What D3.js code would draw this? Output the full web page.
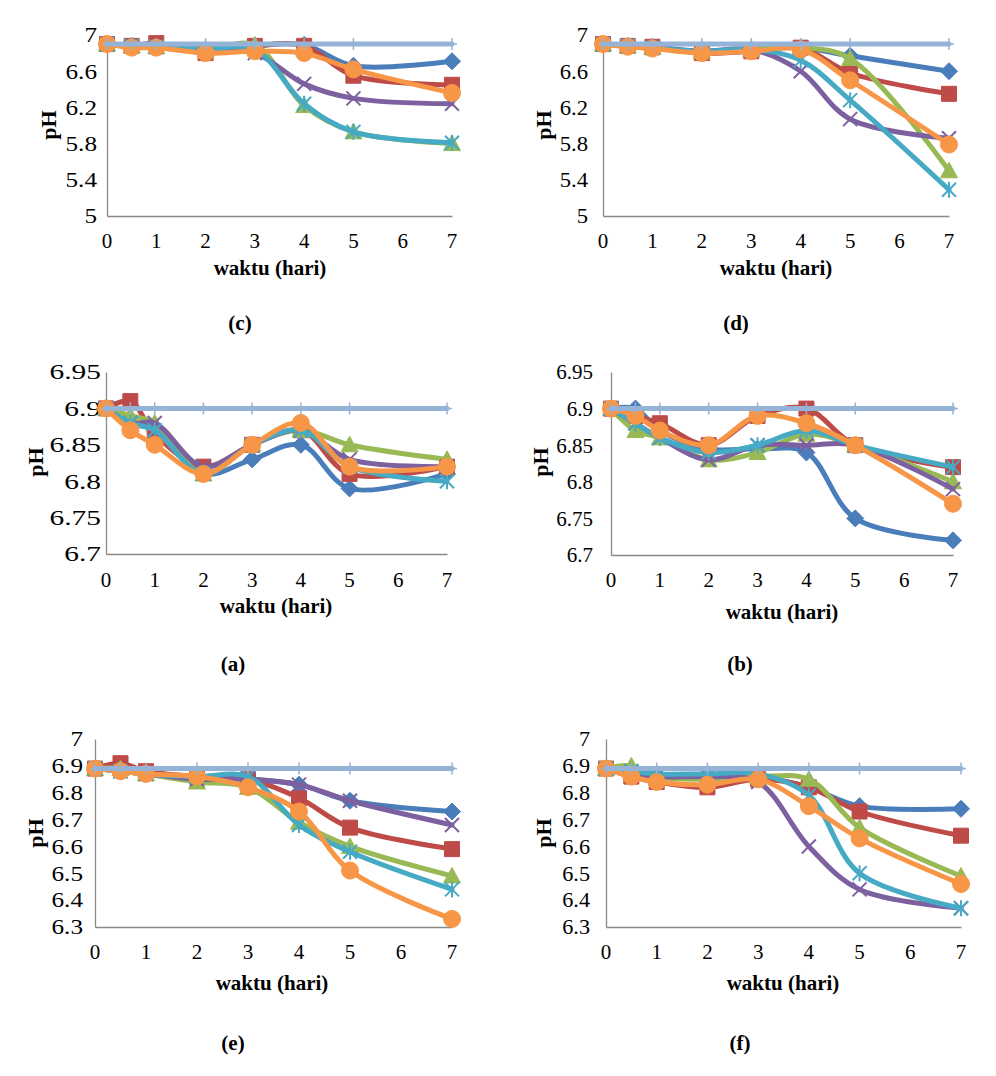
<!DOCTYPE html>
<html>
<head>
<meta charset="utf-8">
<script src="https://cdn.jsdelivr.net/npm/d3@7/dist/d3.min.js"></script>
<style>
html,body{margin:0;padding:0;background:#fff;}
svg{display:block;}
</style>
</head>
<body>
<svg id="chart" width="996" height="1076"></svg>
<script>
// ---- data ----
const days = [0, 0.5, 1, 2, 3, 4, 5, 7];
const xTickLabels = ["0","1","2","3","4","5","6","7"];
const seriesNames = ["diamond","square","triangle","x","star","circle","control"];

const yTicksCD = ["5","5.4","5.8","6.2","6.6","7"];
const yTicksAB = ["6.7","6.75","6.8","6.85","6.9","6.95"];
const yTicksEF = ["6.3","6.4","6.5","6.6","6.7","6.8","6.9","7"];

const panelLabels = ["(c)","(d)","(a)","(b)","(e)","(f)"];

const cBlue   = [6.9, 6.88, 6.9, 6.82, 6.88, 6.89, 6.66, 6.71];
const cRed    = [6.9, 6.88, 6.91, 6.8, 6.88, 6.88, 6.55, 6.45];
const cGreen  = [6.9, 6.88, 6.87, 6.84, 6.89, 6.22, 5.93, 5.8];
const cPurple = [6.9, 6.88, 6.87, 6.84, 6.8, 6.46, 6.3, 6.24];
const cTeal   = [6.9, 6.88, 6.87, 6.84, 6.84, 6.24, 5.93, 5.81];
const cOrange = [6.9, 6.86, 6.86, 6.8, 6.82, 6.8, 6.62, 6.36];
const cControl= [6.9, 6.9, 6.9, 6.9, 6.9, 6.9, 6.9, 6.9];

const dBlue   = [6.9, 6.88, 6.87, 6.82, 6.84, 6.86, 6.77, 6.6];
const dRed    = [6.9, 6.88, 6.87, 6.8, 6.82, 6.86, 6.58, 6.35];
const dGreen  = [6.9, 6.88, 6.86, 6.82, 6.84, 6.86, 6.74, 5.5];
const dPurple = [6.9, 6.88, 6.86, 6.82, 6.84, 6.6, 6.07, 5.86];
const dTeal   = [6.9, 6.88, 6.86, 6.82, 6.84, 6.72, 6.28, 5.29];
const dOrange = [6.9, 6.87, 6.85, 6.8, 6.82, 6.84, 6.5, 5.79];
const dControl= [6.9, 6.9, 6.9, 6.9, 6.9, 6.9, 6.9, 6.9];

const aBlue   = [6.9, 6.88, 6.87, 6.81, 6.83, 6.85, 6.79, 6.81];
const aRed    = [6.9, 6.91, 6.865, 6.82, 6.85, 6.87, 6.81, 6.82];
const aGreen  = [6.9, 6.89, 6.88, 6.81, 6.85, 6.87, 6.85, 6.83];
const aPurple = [6.9, 6.88, 6.88, 6.82, 6.85, 6.87, 6.83, 6.82];
const aTeal   = [6.9, 6.88, 6.87, 6.81, 6.85, 6.87, 6.82, 6.8];
const aOrange = [6.9, 6.87, 6.85, 6.81, 6.85, 6.88, 6.82, 6.82];
const aControl= [6.9, 6.9, 6.9, 6.9, 6.9, 6.9, 6.9, 6.9];

const bBlue   = [6.9, 6.9, 6.87, 6.845, 6.845, 6.84, 6.75, 6.72];
const bRed    = [6.9, 6.89, 6.88, 6.85, 6.89, 6.9, 6.85, 6.82];
const bGreen  = [6.9, 6.87, 6.86, 6.83, 6.84, 6.865, 6.85, 6.8];
const bPurple = [6.9, 6.88, 6.86, 6.83, 6.85, 6.85, 6.85, 6.79];
const bTeal   = [6.9, 6.88, 6.86, 6.84, 6.85, 6.87, 6.85, 6.82];
const bOrange = [6.9, 6.89, 6.87, 6.85, 6.89, 6.88, 6.85, 6.77];
const bControl= [6.9, 6.9, 6.9, 6.9, 6.9, 6.9, 6.9, 6.9];

const eBlue   = [6.89, 6.88, 6.87, 6.85, 6.85, 6.83, 6.77, 6.73];
const eRed    = [6.89, 6.91, 6.88, 6.86, 6.85, 6.78, 6.67, 6.59];
const eGreen  = [6.89, 6.89, 6.87, 6.84, 6.82, 6.69, 6.6, 6.49];
const ePurple = [6.89, 6.88, 6.87, 6.85, 6.85, 6.83, 6.77, 6.68];
const eTeal   = [6.89, 6.88, 6.87, 6.86, 6.86, 6.68, 6.58, 6.44];
const eOrange = [6.89, 6.88, 6.87, 6.86, 6.82, 6.73, 6.51, 6.33];
const eControl= [6.89, 6.89, 6.89, 6.89, 6.89, 6.89, 6.89, 6.89];

const fBlue   = [6.89, 6.87, 6.86, 6.86, 6.86, 6.82, 6.75, 6.74];
const fRed    = [6.89, 6.86, 6.84, 6.82, 6.85, 6.82, 6.73, 6.64];
const fGreen  = [6.89, 6.9, 6.86, 6.85, 6.86, 6.85, 6.67, 6.49];
const fPurple = [6.89, 6.88, 6.86, 6.86, 6.84, 6.6, 6.44, 6.37];
const fTeal   = [6.89, 6.88, 6.87, 6.87, 6.87, 6.79, 6.5, 6.37];
const fOrange = [6.89, 6.86, 6.84, 6.83, 6.85, 6.75, 6.63, 6.46];
const fControl= [6.89, 6.89, 6.89, 6.89, 6.89, 6.89, 6.89, 6.89];

// ---- styles ----
const colors = ["#4A7EBB","#BE4B48","#98B954","#7D60A0","#46AAC5","#F79646","#95B3D7"];
const FONT = "'Liberation Serif','Times New Roman','DejaVu Serif',serif";

const panels = [
  {label:panelLabels[0], ticks:yTicksCD, series:[cBlue,cRed,cGreen,cPurple,cTeal,cOrange,cControl],
   x0:107, x7:452, yb:216, yt:35, tickEnd:97, sx:1.2, xtY:241, xlab:[270,268], ph:[48,125], pl:[240,323]},
  {label:panelLabels[1], ticks:yTicksCD, series:[dBlue,dRed,dGreen,dPurple,dTeal,dOrange,dControl],
   x0:603, x7:949, yb:216, yt:35, tickEnd:588, sx:1.08, xtY:241, xlab:[776,268], ph:[543,125], pl:[736,323]},
  {label:panelLabels[2], ticks:yTicksAB, series:[aBlue,aRed,aGreen,aPurple,aTeal,aOrange,aControl],
   x0:106, x7:447, yb:554, yt:372, tickEnd:101, sx:1.4, xtY:580, xlab:[276,606], ph:[35,462], pl:[233,664]},
  {label:panelLabels[3], ticks:yTicksAB, series:[bBlue,bRed,bGreen,bPurple,bTeal,bOrange,bControl],
   x0:611, x7:953, yb:555, yt:372, tickEnd:593, sx:1.0, xtY:580, xlab:[782,612], ph:[540,462], pl:[740,664]},
  {label:panelLabels[4], ticks:yTicksEF, series:[eBlue,eRed,eGreen,ePurple,eTeal,eOrange,eControl],
   x0:95, x7:452, yb:927, yt:739, tickEnd:83, sx:1.2, xtY:952, xlab:[272,983], ph:[35,833], pl:[233,1043]},
  {label:panelLabels[5], ticks:yTicksEF, series:[fBlue,fRed,fGreen,fPurple,fTeal,fOrange,fControl],
   x0:606, x7:961, yb:927, yt:739, tickEnd:590, sx:1.06, xtY:952, xlab:[783,983], ph:[543,833], pl:[740,1043]}
];

function markerPath(kind){
  switch(kind){
    case "diamond": return "M0,-8.5L8.5,0L0,8.5L-8.5,0Z";
    case "square": return "M-7.5,-7.5H7.5V7.5H-7.5Z";
    case "triangle": return "M0,-8.5L8.5,7L-8.5,7Z";
    case "x": return "M-7,-7L7,7M-7,7L7,-7";
    case "star": return "M-7,-7L7,7M-7,7L7,-7M0,-8V8";
    case "circle": return "M8.5,0A8.5,8.5 0 1,1 -8.5,0A8.5,8.5 0 1,1 8.5,0Z";
    case "control": return "M0,-6V6M-5,0H5";
  }
}
const strokeOnly = {x:true, star:true, control:true};

const svg = d3.select("#chart");
svg.append("rect").attr("width",996).attr("height",1076).attr("fill","#fff");

panels.forEach(p => {
  const vals = p.ticks.map(Number);
  const x = d3.scaleLinear().domain([0,7]).range([p.x0, p.x7]);
  const y = d3.scaleLinear().domain([vals[0], vals[vals.length-1]]).range([p.yb, p.yt]);
  const g = svg.append("g");

  // axes
  const yAxis = d3.axisLeft(y).tickValues(vals).tickSize(0).tickFormat((d,i)=>p.ticks[i]);
  const ya = g.append("g").attr("transform",`translate(${p.x0},0)`).call(yAxis);
  ya.select(".domain").attr("stroke","#898989").attr("stroke-width",1.3);
  ya.selectAll(".tick text").remove();
  const xAxis = d3.axisBottom(x).tickValues(d3.range(0,8)).tickSize(0).tickFormat((d,i)=>xTickLabels[i]);
  const xa = g.append("g").attr("transform",`translate(0,${p.yb})`).call(xAxis);
  xa.select(".domain").attr("stroke","#898989").attr("stroke-width",1.3);
  xa.selectAll(".tick text").remove();

  // y tick labels
  vals.forEach((v,i)=>{
    g.append("text")
      .attr("transform",`translate(${p.tickEnd},${y(v)}) scale(${p.sx},1)`)
      .attr("text-anchor","end").attr("dy","0.35em")
      .attr("font-family",FONT).attr("font-size",21).attr("fill","#000")
      .text(p.ticks[i]);
  });
  // x tick labels
  d3.range(0,8).forEach(i=>{
    g.append("text").attr("x",x(i)).attr("y",p.xtY).attr("dy","0.35em")
      .attr("text-anchor","middle").attr("font-family",FONT).attr("font-size",21).attr("fill","#000")
      .text(xTickLabels[i]);
  });
  // axis titles
  g.append("text").attr("x",p.xlab[0]).attr("y",p.xlab[1]).attr("dy","0.35em")
    .attr("text-anchor","middle").attr("font-family",FONT).attr("font-size",21).attr("font-weight","bold")
    .text("waktu (hari)");
  g.append("text").attr("transform",`translate(${p.ph[0]},${p.ph[1]}) rotate(-90)`)
    .attr("dy","0.35em").attr("text-anchor","middle")
    .attr("font-family",FONT).attr("font-size",22).attr("font-weight","bold").text("pH");
  g.append("text").attr("x",p.pl[0]).attr("y",p.pl[1]).attr("dy","0.35em")
    .attr("text-anchor","middle").attr("font-family",FONT).attr("font-size",21).attr("font-weight","bold")
    .text(p.label);

  // series
  const line = d3.line().x((d,i)=>x(days[i])).y(d=>y(d)).curve(d3.curveCatmullRom.alpha(0.5));
  p.series.forEach((s,si)=>{
    const col = colors[si];
    const kind = seriesNames[si];
    g.append("path").attr("d", line(s)).attr("fill","none")
      .attr("stroke",col).attr("stroke-width",5).attr("stroke-linejoin","round").attr("stroke-linecap","round");
    g.selectAll(null).data(s).enter().append("path")
      .attr("transform",(d,i)=>`translate(${x(days[i])},${y(d)})`)
      .attr("d", markerPath(kind))
      .attr("fill", strokeOnly[kind] ? "none" : col)
      .attr("stroke", col)
      .attr("stroke-width", kind==="control" ? 1.5 : (strokeOnly[kind] ? 2 : 1));
  });
});
</script>
</body>
</html>
